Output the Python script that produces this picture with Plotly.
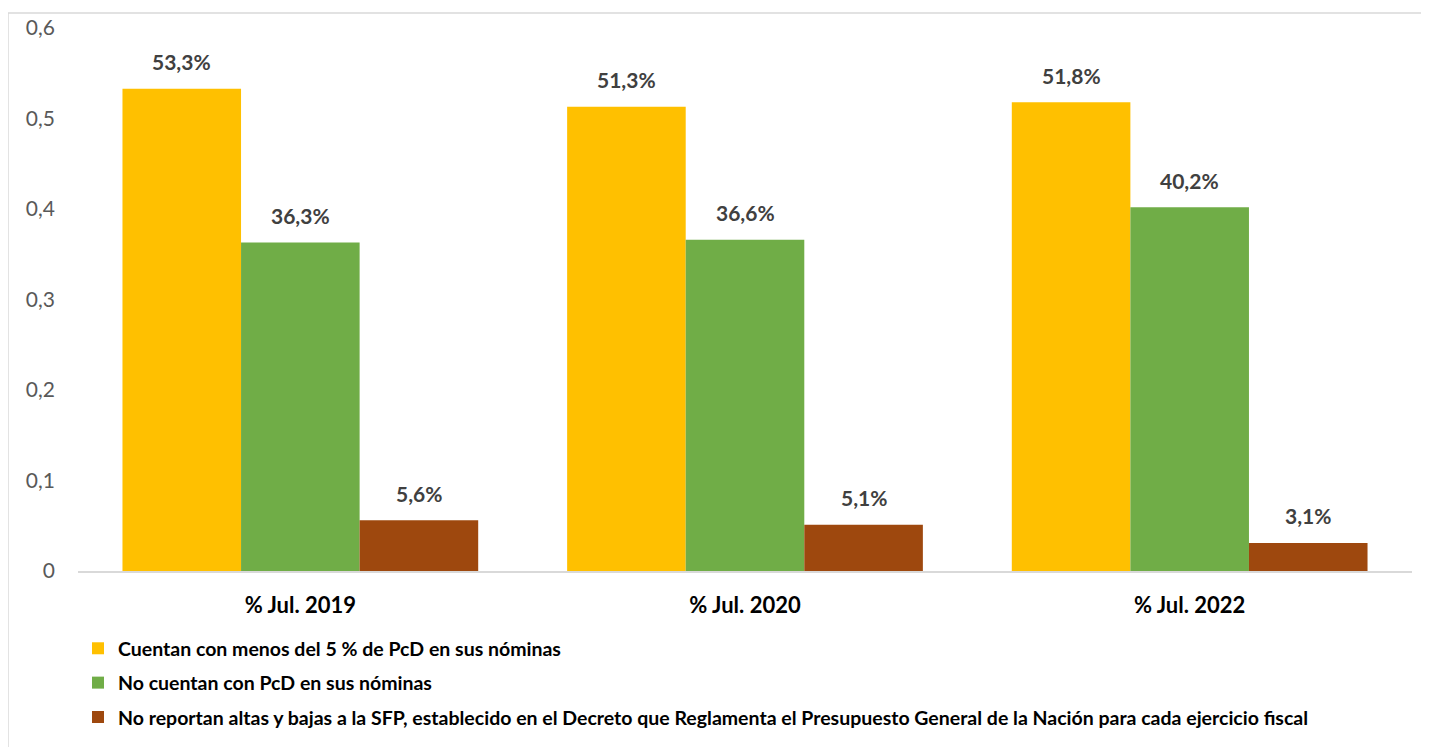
import plotly.graph_objects as go

categories = ["% Jul. 2019", "% Jul. 2020", "% Jul. 2022"]
series_names = [
    "Cuentan con menos del 5 % de PcD en sus nóminas",
    "No cuentan con PcD en sus nóminas",
    "No reportan altas y bajas a la SFP, establecido en el Decreto que Reglamenta el Presupuesto General de la Nación para cada ejercicio fiscal",
]
menos_5 = [0.533, 0.513, 0.518]
sin_pcd = [0.363, 0.366, 0.402]
no_reportan = [0.056, 0.051, 0.031]
colors = ["#FFC000", "#70AD47", "#9E480E"]

FONT = "Lato, 'Open Sans', sans-serif"
BARGAP = 0.2

fig = go.Figure()
series = [menos_5, sin_pcd, no_reportan]
n = len(series)
bar_w = (1 - BARGAP) / n
annotations = []
for j, (name, vals, col) in enumerate(zip(series_names, series, colors)):
    fig.add_trace(
        go.Bar(
            x=categories,
            y=vals,
            name="<b>" + name + "</b>",
            legendgroup=str(j),
            marker=dict(color=col, line=dict(width=0)),
        )
    )
    # data labels above each bar, Spanish decimal comma
    for i, v in enumerate(vals):
        annotations.append(
            dict(
                x=i + (j - (n - 1) / 2) * bar_w,
                y=v,
                xref="x",
                yref="y",
                text="<b>" + f"{v * 100:.1f}".replace(".", ",") + "%</b>",
                showarrow=False,
                yshift=27,
                font=dict(size=21, color="#404040", family=FONT),
            )
        )

fig.update_layout(
    width=1421,
    height=739,
    separators=",.",
    barmode="group",
    bargap=BARGAP,
    bargroupgap=0,
    paper_bgcolor="white",
    plot_bgcolor="white",
    margin=dict(l=70, r=17, t=20, b=176, autoexpand=False),
    font=dict(family=FONT),
    showlegend=True,
    legend=dict(
        orientation="v",
        x=0.0,
        xanchor="left",
        y=-0.107,
        yanchor="top",
        font=dict(size=19.5, color="#000000", family=FONT),
        itemwidth=30,
        tracegroupgap=6,
    ),
    xaxis=dict(
        showline=True,
        linecolor="#D9D9D9",
        linewidth=1.5,
        ticks="",
        tickfont=dict(size=22, color="#000000", family=FONT),
        ticklabelstandoff=14,
        tickprefix="<b>",
        ticksuffix="</b>",
    ),
    yaxis=dict(
        range=[0, 0.6],
        dtick=0.1,
        showgrid=False,
        zeroline=False,
        showline=False,
        tickfont=dict(size=21, color="#595959", family=FONT),
        ticklabelstandoff=22,
    ),
    annotations=annotations,
    shapes=[
        dict(
            type="rect",
            xref="paper",
            yref="paper",
            x0=-0.0525,
            x1=1.012,
            y0=-0.36,
            y1=1.0276,
            line=dict(color="#D9D9D9", width=1.5),
            fillcolor="rgba(0,0,0,0)",
            layer="below",
        )
    ],
)

fig.write_html("out.html")
